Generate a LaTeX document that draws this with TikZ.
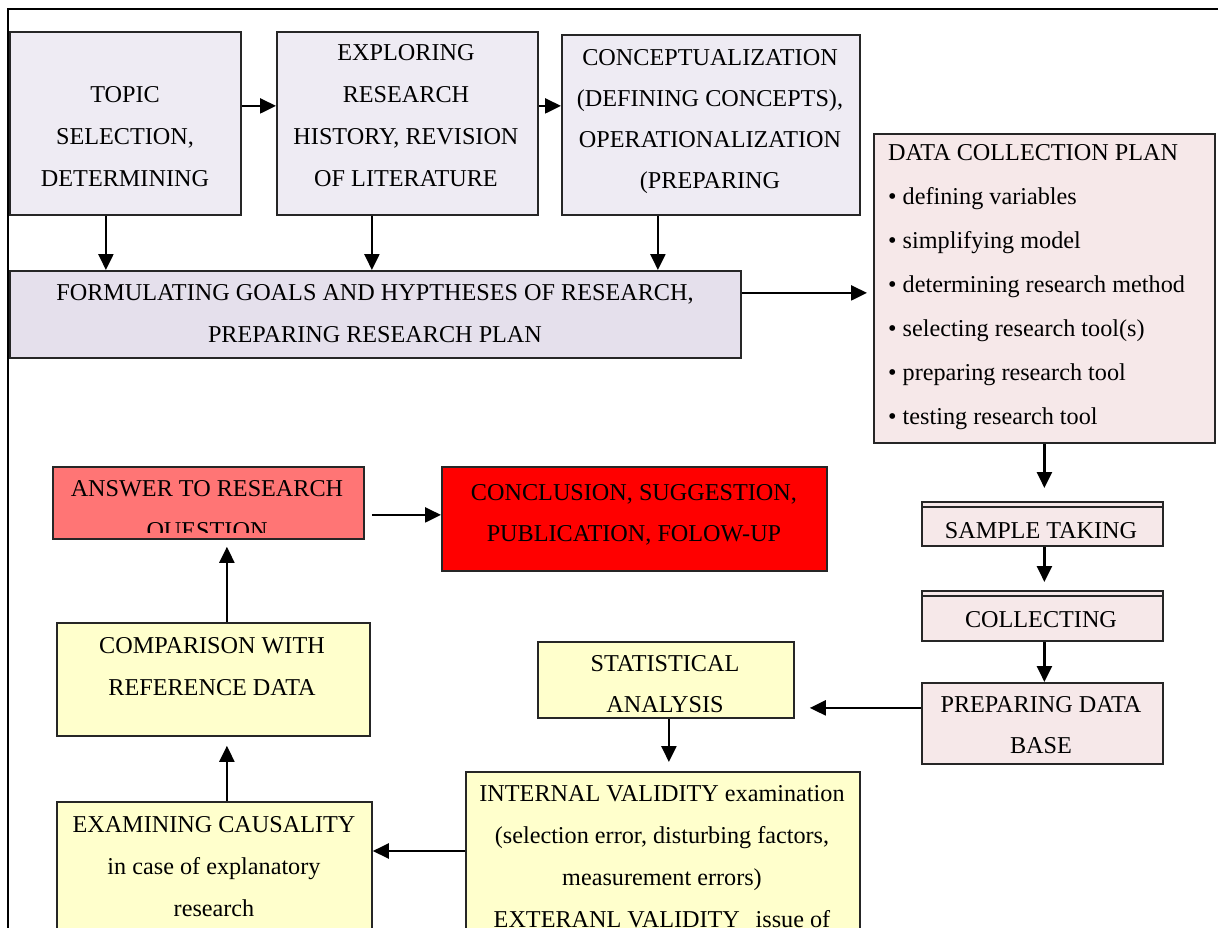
\documentclass[tikz,border=0pt]{standalone}
\usepackage{fontspec}
\setmainfont{Liberation Serif}
\usetikzlibrary{arrows.meta}
\definecolor{topc}{HTML}{EEEBF3}
\definecolor{formc}{HTML}{E5E0EC}
\definecolor{pinkc}{HTML}{F6E8E9}
\definecolor{yelc}{HTML}{FFFFCC}
\definecolor{ansc}{HTML}{FF7575}
\definecolor{conc}{HTML}{FF0000}
\tikzset{
  box/.style={draw=black!85, line width=1.8pt, inner sep=0pt, anchor=north west},
  txt/.style={inner sep=0pt, align=center, anchor=north, font=\fontsize{24.2}{42}\selectfont},
  txtl/.style={inner sep=0pt, align=left, anchor=north west, font=\fontsize{24.2}{44}\selectfont},
  arr/.style={line width=2.4pt, -{Triangle[length=16pt,width=15pt]}},
  frame/.style={line width=2pt}
}
\begin{document}
\begin{tikzpicture}[x=1pt,y=-1pt]
\useasboundingbox (0,0) rectangle (1218,928);
% outer frame
\coordinate (fbl) at (8,1000);
\coordinate (ftl) at (8,9);
\coordinate (ftr) at (1240,9);
\draw[frame] (fbl) -- (ftl) -- (ftr);

% boxes
\node[box, fill=topc, minimum width=231, minimum height=183] (topic) at (9,31) {};
\node[box, fill=topc, minimum width=261, minimum height=183] (explore) at (276,31) {};
\node[box, fill=topc, minimum width=298, minimum height=180] (concept) at (561,34) {};
\node[box, fill=formc, minimum width=731, minimum height=87] (form) at (9,270) {};
\node[box, fill=pinkc, minimum width=341, minimum height=309] (data) at (873,133) {};
\node[box, fill=pinkc, minimum width=241, minimum height=44] (sample) at (921,501) {};
\node[box, fill=pinkc, minimum width=241, minimum height=50] (collect) at (921,590) {};
\node[box, fill=pinkc, minimum width=241, minimum height=81] (prep) at (921,682) {};
\node[box, fill=yelc, minimum width=256, minimum height=76] (stat) at (537,641) {};
\node[box, fill=yelc, minimum width=394, minimum height=230] (internal) at (465,771) {};
\node[box, fill=yelc, minimum width=315, minimum height=200] (exam) at (56,801) {};
\node[box, fill=yelc, minimum width=313, minimum height=113] (comp) at (56,622) {};
\node[box, fill=ansc, minimum width=311, minimum height=72] (answer) at (52,466) {};
\node[box, fill=conc, minimum width=385, minimum height=104] (concl) at (441,466) {};

% double top lines
\coordinate (s1) at (921,507);
\coordinate (s2) at (1162,507);
\coordinate (c1) at (921,596);
\coordinate (c2) at (1162,596);
\draw[black!85, line width=1.8pt] (s1) -- (s2);
\draw[black!85, line width=1.8pt] (c1) -- (c2);

% texts
\node[txt] (ttopic) at (125,86) {TOPIC\\SELECTION,\\DETERMINING};
\node[txt] (texplore) at (406,44) {EXPLORING\\RESEARCH\\HISTORY, REVISION\\OF LITERATURE};
\node[txt, font=\fontsize{24.2}{41}\selectfont] (tconcept) at (710,49) {CONCEPTUALIZATION\\(DEFINING CONCEPTS),\\OPERATIONALIZATION\\(PREPARING};
\node[txt] (tform) at (375,284) {FORMULATING GOALS AND HYPTHESES OF RESEARCH,\\PREPARING RESEARCH PLAN};
\node[txtl] (tdata) at (888,144) {DATA COLLECTION PLAN\\• defining variables\\• simplifying model\\• determining research method\\• selecting research tool(s)\\• preparing research tool\\• testing research tool};
\begin{scope}
\clip (52,466) rectangle (363,532);
\node[txt] (tanswer) at (207,480) {ANSWER TO RESEARCH\\QUESTION};
\end{scope}
\node[txt, font=\fontsize{24.2}{41}\selectfont] (tconcl) at (634,484) {CONCLUSION, SUGGESTION,\\PUBLICATION, FOLOW-UP};
\node[txt] (tsample) at (1041,522) {SAMPLE TAKING};
\node[txt] (tcollect) at (1041,611) {COLLECTING};
\node[txt, font=\fontsize{24.2}{41}\selectfont] (tprep) at (1041,696) {PREPARING DATA\\BASE};
\begin{scope}
\clip (537,641) rectangle (793,712);
\node[txt, font=\fontsize{24.2}{41}\selectfont] (tstat) at (665,655) {STATISTICAL\\ANALYSIS};
\end{scope}
\node[txt] (tcomp) at (212,637) {COMPARISON WITH\\REFERENCE DATA};
\node[txt] (texam) at (214,816) {EXAMINING CAUSALITY\\in case of explanatory\\research};
\node[txt] (tinternal) at (662,785) {INTERNAL VALIDITY examination\\(selection error, disturbing factors,\\measurement errors)\\EXTERANL VALIDITY\hspace{0.4em} issue of};

% arrows
\draw[arr] ([yshift=17.5pt]topic.east) -- ([yshift=17.5pt]explore.west);
\draw[arr] ([yshift=17.5pt]explore.east) -- ([yshift=17.5pt]explore.east -| concept.west);
\draw[arr] ([xshift=-19.5pt]topic.south) -- ([xshift=-19.5pt]topic.south |- form.north);
\draw[arr] ([xshift=-35.5pt]explore.south) -- ([xshift=-35.5pt]explore.south |- form.north);
\draw[arr] ([xshift=-53pt]concept.south) -- ([xshift=-53pt]concept.south |- form.north);
\draw[arr, shorten >=6pt] ([yshift=21.5pt]form.east) -- ([yshift=21.5pt]form.east -| data.west);
\draw[arr, shorten >=13pt] (data.south) -- (data.south |- sample.north);
\draw[arr, shorten >=8pt] ([xshift=2pt]sample.south) -- ([xshift=2pt]sample.south |- collect.north);
\draw[arr] ([xshift=2pt]collect.south) -- ([xshift=2pt]collect.south |- prep.north);
\draw[arr, shorten >=15pt] ([yshift=15.5pt]prep.west) -- ([yshift=15.5pt]prep.west -| stat.east);
\draw[arr, shorten >=9pt] ([xshift=3pt]stat.south) -- ([xshift=3pt]stat.south |- internal.north);
\draw[arr] ([yshift=-80pt]internal.north west) -- ([yshift=-80pt]internal.north west -| exam.east);
\draw[arr, shorten >=9pt] ([xshift=12.5pt]exam.north) -- ([xshift=12.5pt]exam.north |- comp.south);
\draw[arr, shorten >=7pt] ([xshift=13.5pt]comp.north) -- ([xshift=13.5pt]comp.north |- answer.south);
\draw[arr, shorten <=7pt] ([yshift=-12pt]answer.east) -- ([yshift=-12pt]answer.east -| concl.west);
\end{tikzpicture}
\end{document}
